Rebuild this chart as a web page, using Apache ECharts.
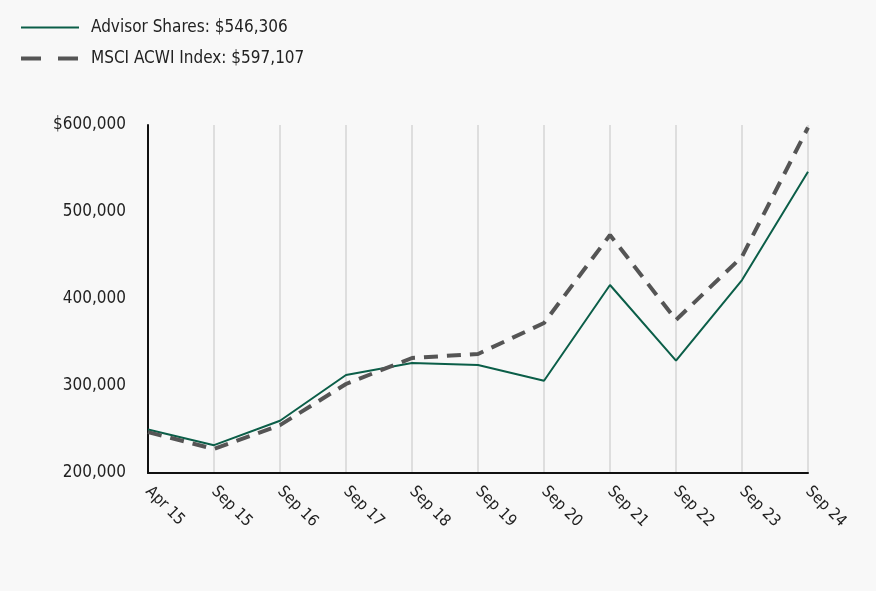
<!DOCTYPE html>
<html><head><meta charset="utf-8">
<script src="https://cdn.jsdelivr.net/npm/echarts@6/dist/echarts.min.js"></script>
<style>html,body{margin:0;padding:0;background:#f8f8f8}#c{width:876px;height:591px}</style>
</head><body><div id="c"></div>
<script>
const categories = ['Apr 15','Sep 15','Sep 16','Sep 17','Sep 18','Sep 19','Sep 20','Sep 21','Sep 22','Sep 23','Sep 24'];
const advisorName = 'Advisor Shares: $546,306';
const msciName = 'MSCI ACWI Index: $597,107';
const advisorValues = [250000,232000,260000,312600,326400,324100,306100,416100,329100,421800,546306];
const msciValues = [247000,227600,255000,302300,332200,336800,372400,473600,375900,448600,597107];
const yTicks = [200000,300000,400000,500000,600000];

const FONT = '"Liberation Sans Narrow","DejaVu Sans Condensed",sans-serif';
const chart = echarts.init(document.getElementById('c'));
chart.setOption({
  backgroundColor:'#f8f8f8',
  animation:false,
  legend:{
    orient:'vertical', left:14, top:14, itemWidth:58, itemHeight:14, itemGap:14,
    itemStyle:{opacity:0},
    textStyle:{fontFamily:FONT,fontSize:17,color:'#222',padding:[0,0,0,7]},
    data:[
      {name:advisorName,lineStyle:{color:'#0b5e48',width:2,type:'solid'}},
      {name:msciName,lineStyle:{color:'#555',width:4,type:[20,17]}}
    ]
  },
  grid:{left:148,right:68,top:125,bottom:118,containLabel:false},
  xAxis:{
    type:'category', data:categories, boundaryGap:false,
    axisLine:{lineStyle:{color:'#111',width:2}},
    axisTick:{show:false},
    axisLabel:{rotate:-45,fontFamily:FONT,fontSize:16,color:'#222',margin:16,interval:0},
    splitLine:{show:true,lineStyle:{color:'#dedede',width:2}}
  },
  yAxis:{
    type:'value', min:yTicks[0], max:yTicks[yTicks.length-1], interval:100000,
    axisLine:{show:true,lineStyle:{color:'#111',width:2}},
    axisTick:{show:false},
    splitLine:{show:false},
    axisLabel:{fontFamily:FONT,fontSize:17,color:'#222',margin:22,
      formatter:v=>(v===yTicks[yTicks.length-1]?'$':'')+v.toLocaleString('en-US')}
  },
  series:[
    {name:advisorName,type:'line',data:advisorValues,symbol:'none',
     lineStyle:{color:'#0b5e48',width:2},itemStyle:{color:'#0b5e48'}},
    {name:msciName,type:'line',data:msciValues,symbol:'none',
     lineStyle:{color:'#555',width:4,type:[14,9]},itemStyle:{color:'#555'}}
  ]
});
</script></body></html>
